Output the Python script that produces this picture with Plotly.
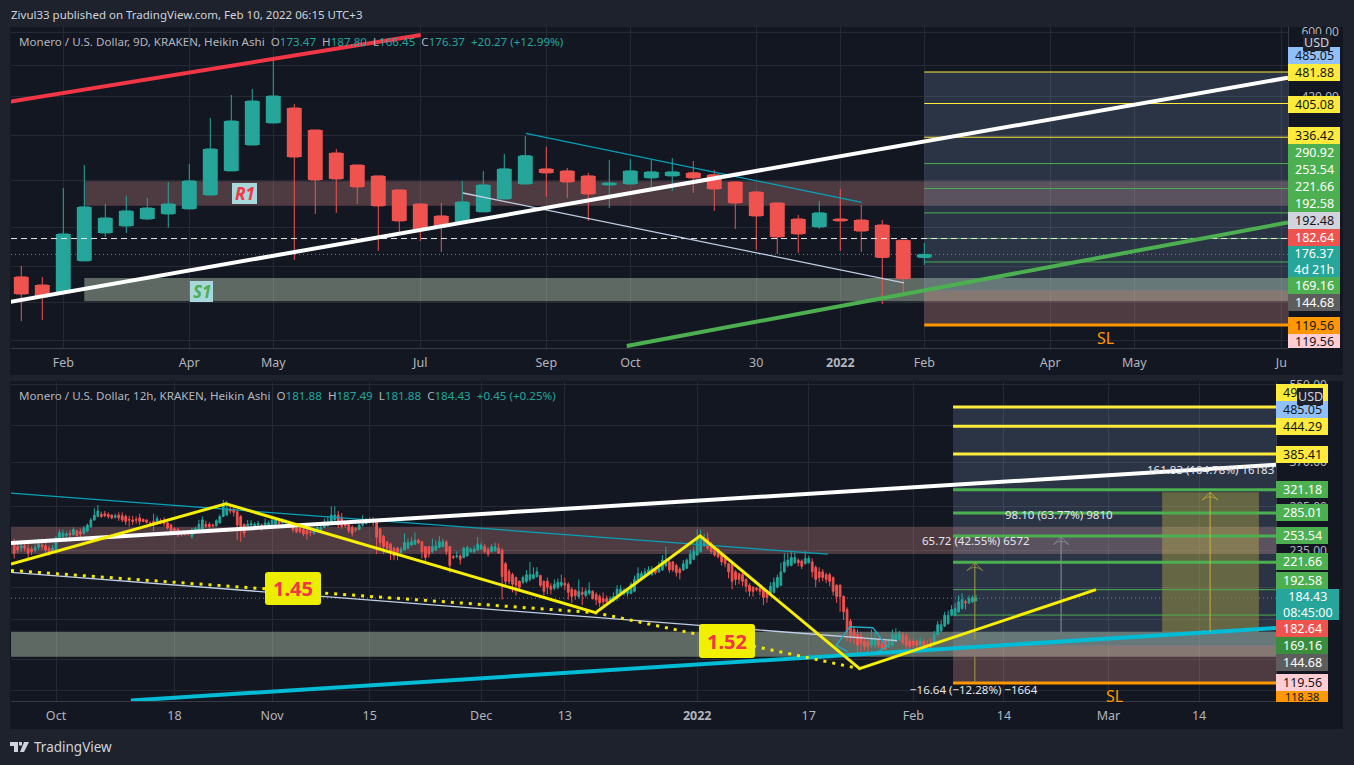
import math
import pandas as pd
import plotly.graph_objects as go

# ---------- top panel data (9D Heikin Ashi) ----------
top_open = [155.8,149,143.3,170.2,198.5,206.3,214.4,220.4,226.6,244.7,279.4,322.3,363.9,395.2,350.1,308.4,288.7,271.8,251.6,232.9,218,210.9,
            223,239.4,260,282.5,279.4,271.8,258.6,260,268.8,271.8,276.4,273.4,262.9,248.8,234.2,214.4,205.2,214.4,213.2,207.4,190.7,173.47]
top_high = [165.5,155.8,254.4,288.7,232.9,243.4,240.7,262.9,290.3,374,424.5,438.8,517.7,404,350.1,315.3,288.7,271.8,251.6,232.9,234.2,264.4,
            279.4,307,338.7,319.2,284,276.4,296.6,298.2,296.6,299.9,295,281,262.9,250.2,234.2,219.2,236.8,252.9,231.6,213.2,190.7,187.8]
top_low = [122.2,122.9,143.3,170.2,194.2,198.5,213.2,204.1,226.6,244.7,279.4,322.3,363.9,171.1,220.4,221.7,232.9,179.8,199.5,189.9,178.8,210.9,
           223,239.4,260,242.1,240.7,212.1,227.8,260,250.2,250.2,247.4,224.1,203,180.8,176.9,177.9,203,179.8,178.8,134.2,140.9,166.45]
top_close = [141.8,139.5,197.4,229.1,215.6,224.1,227.8,232.9,264.4,315.3,367.9,410.7,422.2,301.7,265.8,267.3,255.8,230.4,212.1,201.8,206.3,235.5,
             258.6,282.5,303.7,276.4,262.9,246,261.5,279.4,277.9,277.9,268.8,252.9,234.2,218,194.2,197.4,221.7,212.1,200.6,173.4,154.3,176.37]
top_ticks = [2,8,12,19,25,29,35,39,43,49,53,60]
top_ticktext = ["Feb","Apr","May","Jul","Sep","Oct","30","<b>2022</b>","Feb","Apr","May","Ju"]
top_yticks = [110,135,165,205,265,340,420,500,600]

# ---------- bottom panel data (12h Heikin Ashi) ----------
bot_open = [244,240,238,241,238,237,236,239,242,241,
 238,234,236,249,253,254,257,255,260,259,
 257,260,266,275,280,283,284,283,282,279,
 282,281,280,276,275,276,278,276,275,271,
 273,270,274,274,271,268,263,262,259,258,
 258,253,258,259,262,269,269,268,267,271,
 280,282,291,290,287,280,269,267,268,267,
 268,268,265,266,268,269,273,271,271,272,
 268,264,264,262,261,259,257,259,261,265,
 267,270,275,282,278,272,270,265,263,262,
 268,270,272,275,272,263,253,246,243,238,
 238,233,236,238,242,243,248,246,240,240,
 234,236,239,240,246,240,228,228,229,227,
 229,234,234,236,237,240,237,234,235,238,
 236,220,211,208,205,201,200,201,203,204,
 206,207,201,201,196,194,195,197,199,198,
 193,192,186,190,187,189,191,188,186,184,
 184,181,182,184,189,189,189,189,191,201,
 203,206,208,208,213,211,213,218,222,222,
 218,214,213,215,220,225,230,234,241,250,
 244,240,237,230,229,220,220,211,209,208,
 203,197,195,194,194,193,191,188,190,195,
 197,211,218,218,221,224,223,220,221,222,
 216,211,211,208,208,205,197,197,186,174,
 164,157,153,152,148,148,145,145,149,146,
 148,144,145,148,149,153,152,148,148,148,
 145,148,146,146,146,153,156,160,162,169,
 169,172,175,181,180,181,181.88]
bot_close = [232,236,241,238,232,234,239,243,240,236,
 233,238,251,258,257,256,255,262,254,256,
 264,268,275,282,288,280,281,280,278,281,
 278,275,273,275,273,275,273,273,272,270,
 270,277,271,270,264,260,259,255,256,256,
 256,261,263,269,275,266,266,267,274,280,
 297,292,288,286,268,260,257,269,270,269,
 270,264,271,271,275,275,270,273,273,266,
 262,259,259,256,256,258,262,265,265,272,
 272,282,282,268,266,267,260,257,262,268,
 275,275,276,274,252,245,240,238,234,229,
 231,237,245,245,246,248,245,234,227,231,
 240,241,246,246,234,218,227,229,225,238,
 239,237,237,243,242,234,231,240,240,232,
 206,201,201,198,197,195,205,208,208,208,
 211,197,191,195,193,198,200,200,197,190,
 186,187,191,188,191,192,184,183,180,181,
 181,184,186,193,193,192,192,198,203,209,
 209,211,213,214,210,215,224,224,213,213,
 210,210,220,224,231,234,250,252,249,238,
 234,230,228,222,220,211,201,203,203,201,
 196,191,191,193,191,185,185,196,200,205,
 211,222,224,227,227,221,217,226,226,211,
 203,205,205,203,201,191,186,186,172,155,
 152,151,145,146,144,144,150,149,145,143,
 142,148,153,153,154,147,145,144,145,145,
 148,145,144,143,153,161,161,169,169,174,
 175,181,183,180,184,185,184.43]
bot_high = [250,247,248,247,243,240,243,250,246,244,
 241,242,253,262,262,259,261,265,262,263,
 267,270,278,292,297,287,288,286,283,284,
 286,286,283,281,281,280,284,277,276,273,
 284,281,277,279,273,270,265,264,260,259,
 260,264,266,275,280,274,272,270,276,283,
 305,303,296,293,290,282,270,275,275,272,
 274,270,277,274,280,278,276,277,276,274,
 270,267,266,265,262,263,265,269,270,277,
 280,295,295,288,285,274,272,268,265,270,
 282,278,279,279,273,264,255,247,245,240,
 240,240,257,250,252,258,250,247,241,241,
 250,248,253,250,248,241,230,234,231,240,
 241,239,241,252,245,243,239,243,245,244,
 238,222,214,210,206,202,207,213,222,216,
 216,208,202,205,199,203,204,208,205,200,
 195,193,203,195,194,200,192,190,188,190,
 187,186,190,197,197,194,193,200,207,216,
 212,215,217,217,214,222,230,240,224,223,
 220,216,224,226,236,240,262,262,256,258,
 246,242,238,232,230,221,222,213,210,210,
 204,199,196,195,197,194,192,200,205,208,
 221,232,232,235,233,226,225,235,229,226,
 218,216,214,210,210,206,198,198,187,176,
 166,160,157,155,150,149,157,155,150,148,
 149,150,157,158,156,155,154,150,150,149,
 151,150,149,150,156,164,165,172,173,178,
 180,187,189,183,187,187,187.49]
bot_low = [226,232,234,234,224,230,233,236,236,232,
 229,232,236,247,250,252,251,254,251,252,
 255,258,264,274,279,278,279,277,276,277,
 274,272,268,266,268,270,268,272,270,268,
 260,268,269,266,262,258,257,252,253,254,
 254,250,256,258,261,264,263,265,266,270,
 279,281,284,280,248,246,252,265,267,265,
 266,260,263,265,267,268,268,270,270,264,
 258,257,257,253,249,253,255,258,260,264,
 266,270,274,264,263,264,257,253,259,261,
 266,269,271,266,231,238,231,236,224,224,
 224,231,235,237,241,242,243,226,223,227,
 232,235,238,239,230,210,225,226,219,226,
 228,233,232,235,236,232,228,233,234,232,
 183,196,198,190,187,191,198,199,201,203,
 205,195,187,188,188,192,193,195,192,183,
 180,183,184,178,185,187,183,178,176,178,
 178,180,181,182,187,187,186,188,190,200,
 202,205,207,207,208,210,212,216,210,211,
 206,203,212,214,219,224,229,233,240,236,
 231,228,226,218,216,204,193,197,198,196,
 190,186,186,191,187,178,180,186,189,194,
 196,210,216,217,220,217,214,219,220,205,
 195,200,201,199,196,187,180,172,165,148,
 147,146,138,140,141,140,143,143,143,140,
 141,143,144,147,148,145,142,142,143,143,
 144,142,141,142,145,152,155,159,161,168,
 168,171,174,174,179,180,181.88]
assert len(bot_open)==len(bot_close)==len(bot_high)==len(bot_low)==277, (len(bot_open),len(bot_close),len(bot_high),len(bot_low))
bot_dates = pd.date_range("2021-09-25", periods=277, freq="12h")
bot_ticks = ["2021-10-01","2021-10-18","2021-11-01","2021-11-15","2021-12-01","2021-12-13","2022-01-01","2022-01-17","2022-02-01","2022-02-14","2022-03-01","2022-03-14"]
bot_ticktext = ["Oct","18","Nov","15","Dec","13","<b>2022</b>","17","Feb","14","Mar","14"]
bot_yticks = [115,135,165,195,235,295,370,445,550]

# ---------- levels and drawings (prices) ----------
top_thin_yellow = [481.88,405.08,336.42]
top_thin_green = [290.92,253.54,221.66,192.58,169.16]
bot_thick_yellow = [490.2,444.29,385.41]
bot_thick_green = [321.18,285.01,253.54,221.66]
bot_thin_green = [192.58,169.16]
fib_top, fib_mid, fib_sl = 481.88, 144.68, 119.56
zone_r1 = (264.0,230.6)
zone_s1 = (154.8,136.2)

X0_TOP, X1_TOP = -0.49, 60.32
D0_BOT, D1_BOT = "2021-09-24 13:00", "2022-03-25 01:00"
FIB_D0 = "2022-02-06 17:00"

BG="#131722"; PAPER="#1e222d"; GRID="#262a35"; AXIS="#363a45"; TXT="#b2b5be"
UP="#26a69a"; DN="#ef5350"; YEL="#ffeb3b"; GRN="#4caf50"; ORG="#ff9800"
FONT="Noto Sans"
R1F="rgba(255,167,162,0.25)"; S1F="rgba(204,230,196,0.40)"; BLUEF="rgba(152,190,228,0.18)"

def XP(px): return px/1354
def YP(py): return 1-py/765
p=lambda x,y:f"{XP(x)} {YP(y)}"

fig = go.Figure()
shapes=[]; annos=[]

def rect(x0,x1,y0,y1,color,layer="below"):
    shapes.append(dict(type="rect",xref="paper",yref="paper",x0=XP(x0),x1=XP(x1),y0=YP(y0),y1=YP(y1),
                       fillcolor=color,line_width=0,layer=layer))
def text(px,py,t,size=12,color=TXT,anchor="left",bg=None,**kw):
    annos.append(dict(xref="paper",yref="paper",x=XP(px),y=YP(py),text=t,showarrow=False,xanchor=anchor,yanchor="middle",
                      font=dict(family=FONT,size=size,color=color),bgcolor=bg,borderpad=0,**kw))
def label(x0,x1,y0,y1,t,bg,fg,size=12.5):
    rect(x0,x1,y0,y1,bg,"above")
    text((x0+x1)/2,(y0+y1)/2,t,size=size,color=fg,anchor="center")
def badge(x0,x1,y0,y1,t,bg,fg,size,r=3):
    d=(f"M{p(x0+r,y0)}L{p(x1-r,y0)}Q{p(x1,y0)} {p(x1,y0+r)}L{p(x1,y1-r)}Q{p(x1,y1)} {p(x1-r,y1)}"
       f"L{p(x0+r,y1)}Q{p(x0,y1)} {p(x0,y1-r)}L{p(x0,y0+r)}Q{p(x0,y0)} {p(x0+r,y0)}Z")
    shapes.append(dict(type="path",xref="paper",yref="paper",path=d,fillcolor=bg,line_width=0,layer="above"))
    text((x0+x1)/2,(y0+y1)/2,t,size=size,color=fg,anchor="center")

# panel frames
rect(10,1343,27,375,BG)
rect(10,1343,381,729,BG)

# zones
def zone(xr,yr,x0,x1,y0,y1,fill,**kw):
    shapes.append(dict(type="rect",xref=xr,yref=yr,x0=x0,x1=x1,y0=y0,y1=y1,fillcolor=fill,line_width=0,layer="between",**kw))
def level(xr,yr,x0,x1,v,color,width=1):
    shapes.append(dict(type="line",xref=xr,yref=yr,x0=x0,x1=x1,y0=v,y1=v,line=dict(color=color,width=width),layer="between"))
zone("x","y",3.0,X1_TOP,*zone_r1,R1F)
zone("x","y",3.0,X1_TOP,*zone_s1,S1F)
zone("x","y",43,X1_TOP,fib_top,fib_mid,BLUEF)
zone("x","y",43,X1_TOP,fib_mid,fib_sl,R1F)
zone("x2","y2",D0_BOT,D1_BOT,265.7,231,R1F)
zone("x2","y2",D0_BOT,D1_BOT,155.4,136.7,S1F)
zone("x2","y2",FIB_D0,D1_BOT,490.2,fib_mid,BLUEF)
zone("x2","y2",FIB_D0,D1_BOT,fib_mid,fib_sl,R1F)
zone("x2","y2","2022-03-08 17:00","2022-03-22 14:00",317.1,155.1,"rgba(205,190,70,0.36)")

# thin levels
for v in top_thin_yellow: level("x","y",43,X1_TOP,v,YEL)
for v in top_thin_green: level("x","y",43,X1_TOP,v,GRN)
level("x","y",43,X1_TOP,fib_mid,"#787b86")
for v in bot_thin_green: level("x2","y2",FIB_D0,D1_BOT,v,GRN)
level("x2","y2",FIB_D0,D1_BOT,fib_mid,"#787b86")

# candles: top
fig.add_trace(go.Bar(x=list(range(len(top_open))),
                     y=[abs(c-o) for o,c in zip(top_open,top_close)],
                     base=[min(o,c) for o,c in zip(top_open,top_close)],
                     width=0.71,marker=dict(color=[UP if c>=o else DN for o,c in zip(top_open,top_close)],line_width=0),
                     xaxis="x",yaxis="y",hoverinfo="skip"))
candle_kw=dict(increasing=dict(line=dict(color=UP,width=1),fillcolor=UP),
               decreasing=dict(line=dict(color=DN,width=1),fillcolor=DN),whiskerwidth=0,hoverinfo="skip")
fig.add_trace(go.Candlestick(x=list(range(len(top_open))),open=top_open,high=top_high,low=top_low,close=top_close,
                             xaxis="x",yaxis="y",**candle_kw))
fig.add_trace(go.Candlestick(x=bot_dates,open=bot_open,high=bot_high,low=bot_low,close=bot_close,
                             xaxis="x2",yaxis="y2",**candle_kw))

def line(xs,ys,color,width,dash="solid",panel=1,mode="lines",marker=None):
    kw=dict(xaxis="x",yaxis="y") if panel==1 else dict(xaxis="x2",yaxis="y2")
    fig.add_trace(go.Scatter(x=xs,y=ys,mode=mode,line=dict(color=color,width=width,dash=dash),marker=marker,hoverinfo="skip",**kw))

# top levels
line([43,X1_TOP],[fib_sl,fib_sl],ORG,3)
line([X0_TOP,X1_TOP],[192.48,192.48],"#e8e8e8",1,"6px,4px")
line([X0_TOP,X1_TOP],[176.37,176.37],UP,1,"1px,3px")
# top trend lines
line([24.03,40.02],[343.7,234.8],"#06a2b8",1.3)
line([21.03,42.03],[247.4,150.8],"#c0cfe6",1.3)
line([-0.54,60.32],[135.7,467],"#ffffff",4)
line([-0.54,19.02],[409.2,590.8],"#f23645",4)
line([28.83,60.32],[106.5,210.3],"#4caf50",4)

# bottom levels
for v in bot_thick_yellow: line([FIB_D0,D1_BOT],[v,v],YEL,3,panel=2)
for v in bot_thick_green: line([FIB_D0,D1_BOT],[v,v],GRN,3,panel=2)
line([FIB_D0,D1_BOT],[fib_sl,fib_sl],ORG,3,panel=2)
line([D0_BOT,D1_BOT],[184.43,184.43],UP,1,"1px,3px",panel=2)
# bottom trend lines
line([D0_BOT,"2022-01-19 18:00"],[315.5,230.9],"#06a2b8",1.3,panel=2)
line([D0_BOT,"2022-01-29 16:00"],[210.4,148.4],"#c0cfe6",1.3,panel=2)
line([D0_BOT,D1_BOT],[244.4,364.6],"#ffffff",4,panel=2)
line(["2021-10-11 18:00",D1_BOT],[109.3,158.4],"#00bcd4",4,panel=2)
line(["2022-01-22 14:00","2022-01-20 22:00","2022-01-22 22:00","2022-01-26 05:00","2022-01-28 05:00","2022-01-26 22:00"],
     [140.3,144.7,159.4,158.6,144,140.3],"#1fa9c4",1.5,panel=2)
# position arrows
ARW="#a89c45"
mk=lambda c:dict(symbol="arrow-wide-open",size=[0,11],color=c,line=dict(color=c,width=1))
line(["2022-02-09 20:00","2022-02-09 20:00"],[149.2,221],ARW,1,panel=2,mode="lines+markers",marker=mk(ARW))
line(["2022-02-09 20:00","2022-02-09 20:00"],[136.7,119.8],ARW,1,panel=2)
line(["2022-02-22 05:00","2022-02-22 05:00"],[155.1,252.4],"#8a93a0",1,panel=2,mode="lines+markers",marker=mk("#8a93a0"))
line(["2022-03-15 14:00","2022-03-15 14:00"],[155.1,317.1],"#c4b13c",1,panel=2,mode="lines+markers",marker=mk("#c4b13c"))
# zigzag
line(["2021-09-24 13:00","2021-10-25 09:00","2021-12-17 10:00","2022-01-01 10:00","2022-01-24 07:00","2022-02-27 05:00"],
     [219.6,298.8,171.2,253.7,128.6,192.6],"#f7ef00",3,panel=2)
line(["2021-09-24 13:00","2021-12-17 10:00","2022-01-24 07:00"],[212.5,171.2,128.6],"#f0ea00",3,"3px,6px",panel=2)

# clipped R1 text at the top of panel 1
fig.add_trace(go.Scatter(x=[18.3],y=[641],mode="text",text=["<b><i>R1</i></b>"],textposition="middle center",
                         textfont=dict(family=FONT,size=16,color="#f23645"),xaxis="x",yaxis="y",hoverinfo="skip",cliponaxis=True))

# on-chart text
label(232,257,183,204,"<b><i>R1</i></b>","#a8d8dc","#f23645",17)
label(190,213,281,302,"<b><i>S1</i></b>","#a8d8dc","#4caf50",17)
text(1105,338,"SL",16,ORG,"center")
text(1114,696,"SL",16,ORG,"center")
text(976,540,"65.72 (42.55%) 6572",11.5,"#e4e6ea","center")
text(1059,514,"98.10 (63.77%) 9810",11.5,"#e4e6ea","center")
text(1210,469,"161.83 (104.78%) 16183",11.5,"#e4e6ea","center")
text(974,689,"−16.64 (−12.28%) −1664",11.5,"#e4e6ea","center")
badge(265,321,572,605,"<b>1.45</b>","#eded00","#f23645",20)
badge(699,755,624,658,"<b>1.52</b>","#f0f000","#f23645",20)

# header / legends
text(10,14.5,"Zivul33 published on TradingView.com, Feb 10, 2022 06:15 UTC+3",11.5,"#d1d4dc")
def legend(o,h,l,c,chg):
    v=lambda s:f'<span style="color:{UP}">{s}</span>'
    return f"O{v(o)}  H{v(h)}  L{v(l)}  C{v(c)}  {v(chg)}"
text(18,41.5,"Monero / U.S. Dollar, 9D, KRAKEN, Heikin Ashi  "+legend("173.47","187.80","166.45","176.37","+20.27 (+12.99%)"),11.6)
text(18,395.5,"Monero / U.S. Dollar, 12h, KRAKEN, Heikin Ashi  "+legend("181.88","187.49","181.88","184.43","+0.45 (+0.25%)"),11.6)
text(33,747,"TradingView",13.5,"#d1d4dc")
# logo
def logo(d): shapes.append(dict(type="path",xref="paper",yref="paper",path=d,fillcolor="#d1d4dc",line_width=0,layer="above"))
logo(f"M{p(10,742)}L{p(18,742)}L{p(18,752)}L{p(14,752)}L{p(14,746)}L{p(10,746)}Z")
logo(f"M{p(24,742)}L{p(29,742)}L{p(24,752)}L{p(20,752)}Z")
logo(f"M{p(19,742)}L{p(22,742)}L{p(22,745.5)}L{p(19,745.5)}Z")

# price labels, top
LX0,LX1=1288,1340
WHT="#ffffff"; BLK="#131722"
label(LX0,LX1,47,64,"485.05","#90bff9",BLK)
label(LX0,LX1,64,81,"481.88",YEL,BLK)
label(LX0,LX1,96,113,"405.08",YEL,BLK)
label(LX0,LX1,127,144,"336.42",YEL,BLK)
label(LX0,LX1,144,161,"290.92",GRN,WHT)
label(LX0,LX1,161,178,"253.54",GRN,WHT)
label(LX0,LX1,178,195,"221.66",GRN,WHT)
label(LX0,LX1,195,212,"192.58",GRN,WHT)
label(LX0,LX1,212,229,"192.48","#d1d4dc",BLK)
label(LX0,LX1,229,246,"182.64",DN,WHT)
label(LX0,LX1,246,277,"176.37<br>4d 21h",UP,WHT)
label(LX0,LX1,277,294,"169.16",GRN,WHT)
label(LX0,LX1,294,311,"144.68","#5d5d5d",WHT)
label(LX0,LX1,317,334,"119.56",ORG,BLK)
label(LX0,LX1,334,348,"119.56","#ffcdd2",BLK)
label(1303,1330,34,51,"USD",PAPER,"#d1d4dc")
# price labels, bottom
LX0,LX1=1276,1328
label(LX0,LX1,384,402,"490.20",YEL,BLK)
label(LX0,LX1,401,418,"485.05","#90bff9",BLK)
label(LX0,LX1,418,435,"444.29",YEL,BLK)
label(LX0,LX1,446,463,"385.41",YEL,BLK)
label(LX0,LX1,481,498,"321.18",GRN,WHT)
label(LX0,LX1,504,521,"285.01",GRN,WHT)
label(LX0,LX1,527,544,"253.54",GRN,WHT)
label(LX0,LX1,553,570,"221.66",GRN,WHT)
label(LX0,LX1,572,589,"192.58",GRN,WHT)
label(LX0,1339,589,620,"184.43<br>08:45:00",UP,WHT)
label(LX0,LX1,620,637,"182.64",DN,WHT)
label(LX0,LX1,637,654,"169.16","#388e3c",WHT)
label(LX0,LX1,654,671,"144.68","#5d5d5d",WHT)
label(LX0,LX1,674,691,"119.56","#ffcdd2",BLK)
label(LX0,LX1,691,702,"118.38",ORG,BLK,11)
label(1297,1323,388,405,"USD",PAPER,"#d1d4dc")

xcommon=dict(showline=True,linecolor=AXIS,showgrid=True,gridcolor=GRID,gridwidth=1,zeroline=False,ticks="outside",ticklen=3,tickcolor="rgba(0,0,0,0)",
             tickfont=dict(family=FONT,size=12.5,color=TXT),tickangle=0,fixedrange=True,tickmode="array",automargin=False)
ycommon=dict(type="log",side="right",showline=True,linecolor=AXIS,showgrid=True,gridcolor=GRID,gridwidth=1,zeroline=False,ticks="outside",
             tickcolor="rgba(0,0,0,0)",tickfont=dict(family=FONT,size=12,color=TXT),fixedrange=True,tickmode="array",automargin=False)
def dom(a,b): return [YP(b),YP(a)]
fig.update_layout(
    width=1354,height=765,margin=dict(l=0,r=0,t=0,b=0),autosize=False,showlegend=False,
    paper_bgcolor=PAPER,plot_bgcolor="rgba(0,0,0,0)",barmode="overlay",hovermode=False,dragmode=False,
    xaxis=dict(domain=[XP(11),XP(1288)],anchor="y",range=[X0_TOP,X1_TOP],tickvals=top_ticks,ticktext=top_ticktext,
               rangeslider=dict(visible=False),type="linear",**xcommon),
    yaxis=dict(domain=dom(27,348),anchor="x",range=[math.log10(105.3),math.log10(617.5)],tickvals=top_yticks,
               ticktext=[f"{v:.2f}" for v in top_yticks],ticklen=10,**ycommon),
    xaxis2=dict(domain=[XP(11),XP(1276)],anchor="y2",range=[D0_BOT,D1_BOT],tickvals=bot_ticks,ticktext=bot_ticktext,
                rangeslider=dict(visible=False),type="date",**xcommon),
    yaxis2=dict(domain=dom(382,701),anchor="x2",range=[math.log10(109),math.log10(557)],tickvals=bot_yticks,
                ticktext=[f"{v:.2f}" for v in bot_yticks],ticklen=10,**ycommon),
    shapes=shapes,annotations=annos,
)
fig.write_html("out.html",config=dict(displayModeBar=False,staticPlot=True),
               post_script="document.body.style.margin='0';document.body.style.background='#1e222d';")
